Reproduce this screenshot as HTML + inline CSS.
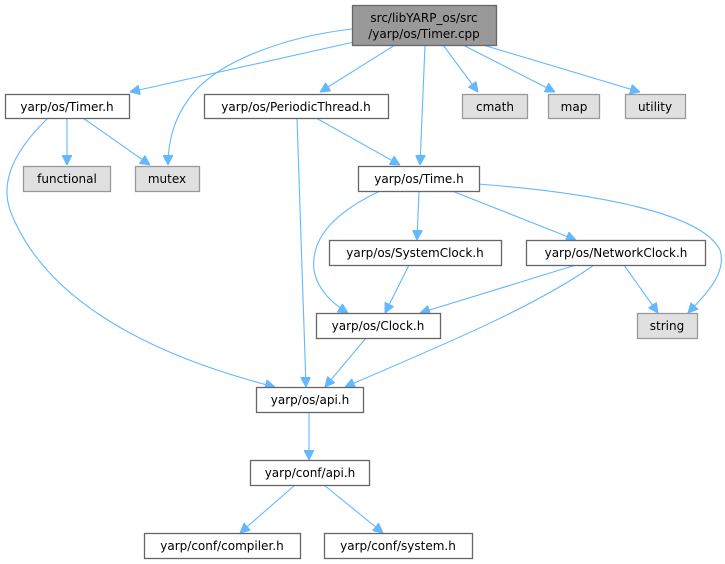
<!DOCTYPE html>
<html><head><meta charset="utf-8"><style>
html,body{margin:0;padding:0;background:#fff;width:725px;height:564px;overflow:hidden}
text{font-family:"DejaVu Sans","Liberation Sans",sans-serif;font-size:12px;fill:#000;text-anchor:middle}
.b{fill:#fff;stroke:#666;stroke-width:1.3}
.g{fill:#e0e0e0;stroke:#999;stroke-width:1.3}
.e{fill:none;stroke:#63b8ff;stroke-width:1.1}
</style></head><body>
<svg width="725" height="564" viewBox="0 0 725 564" xmlns="http://www.w3.org/2000/svg">
<defs><marker id="a" viewBox="0 0 10 10" refX="10" refY="5" markerWidth="10" markerHeight="10" markerUnits="userSpaceOnUse" orient="auto"><path d="M0,0L10,5L0,10z" fill="#63b8ff" stroke="#63b8ff"/></marker></defs>
<g class="e" marker-end="url(#a)">
<path d="M354,42 L130,92"/>
<path d="M352,29 C290,36 215,60 188,100 C170,125 168,150 168,165"/>
<path d="M395,45 L320,92"/>
<path d="M425,45 L420,165"/>
<path d="M443,45 L478,92"/>
<path d="M463,45 L555,92"/>
<path d="M483,45 L640,92"/>
<path d="M67,118 L67,165"/>
<path d="M83,118 L150,165"/>
<path d="M48,118 C15,150 0,180 10,210 C40,290 130,350 275,387"/>
<path d="M297,118 L306,387"/>
<path d="M316,118 L400,165"/>
<path d="M380,191 C340,210 310,235 314,270 C318,292 335,305 348,313"/>
<path d="M419,191 L417,240"/>
<path d="M452,191 L576,240"/>
<path d="M478,184 C580,192 700,210 720,250 C728,275 700,300 688,313"/>
<path d="M409,265 L385,313"/>
<path d="M576,265 L420,313"/>
<path d="M594,265 C530,310 430,350 345,387"/>
<path d="M624,265 L658,313"/>
<path d="M366,338 L325,387"/>
<path d="M309,412 L309,460"/>
<path d="M295,485 L240,533"/>
<path d="M324,485 L383,533"/>
</g>
<rect x="352.5" y="5.5" width="144" height="40" fill="#999" stroke="#666" stroke-width="1.3"/>
<text x="424" y="22">src/libYARP_os/src</text><text x="424" y="38">/yarp/os/Timer.cpp</text>
<rect class="b" x="5.5" y="94.5" width="124" height="24"/><text x="67" y="111">yarp/os/Timer.h</text>
<rect class="b" x="204.5" y="94.5" width="184" height="24"/><text x="296" y="111">yarp/os/PeriodicThread.h</text>
<rect class="g" x="462.5" y="94.5" width="65" height="24"/><text x="495" y="111">cmath</text>
<rect class="g" x="548.5" y="94.5" width="51" height="24"/><text x="574" y="111">map</text>
<rect class="g" x="625.5" y="94.5" width="60" height="24"/><text x="655" y="111">utility</text>
<rect class="g" x="23.5" y="166.5" width="87" height="25"/><text x="67" y="183">functional</text>
<rect class="g" x="135.5" y="166.5" width="64" height="25"/><text x="167" y="183">mutex</text>
<rect class="b" x="358.5" y="166.5" width="121" height="25"/><text x="419" y="183">yarp/os/Time.h</text>
<rect class="b" x="329.5" y="240.5" width="172" height="25"/><text x="415" y="257">yarp/os/SystemClock.h</text>
<rect class="b" x="526.5" y="240.5" width="179" height="25"/><text x="616" y="257">yarp/os/NetworkClock.h</text>
<rect class="b" x="316.5" y="313.5" width="124" height="25"/><text x="378" y="330">yarp/os/Clock.h</text>
<rect class="g" x="637.5" y="313.5" width="60" height="25"/><text x="667" y="330">string</text>
<rect class="b" x="256.5" y="387.5" width="107" height="25"/><text x="310" y="404">yarp/os/api.h</text>
<rect class="b" x="250.5" y="460.5" width="119" height="25"/><text x="310" y="477">yarp/conf/api.h</text>
<rect class="b" x="144.5" y="533.5" width="156" height="25"/><text x="222" y="550">yarp/conf/compiler.h</text>
<rect class="b" x="324.5" y="533.5" width="148" height="25"/><text x="398" y="550">yarp/conf/system.h</text>
</svg>
</body></html>
